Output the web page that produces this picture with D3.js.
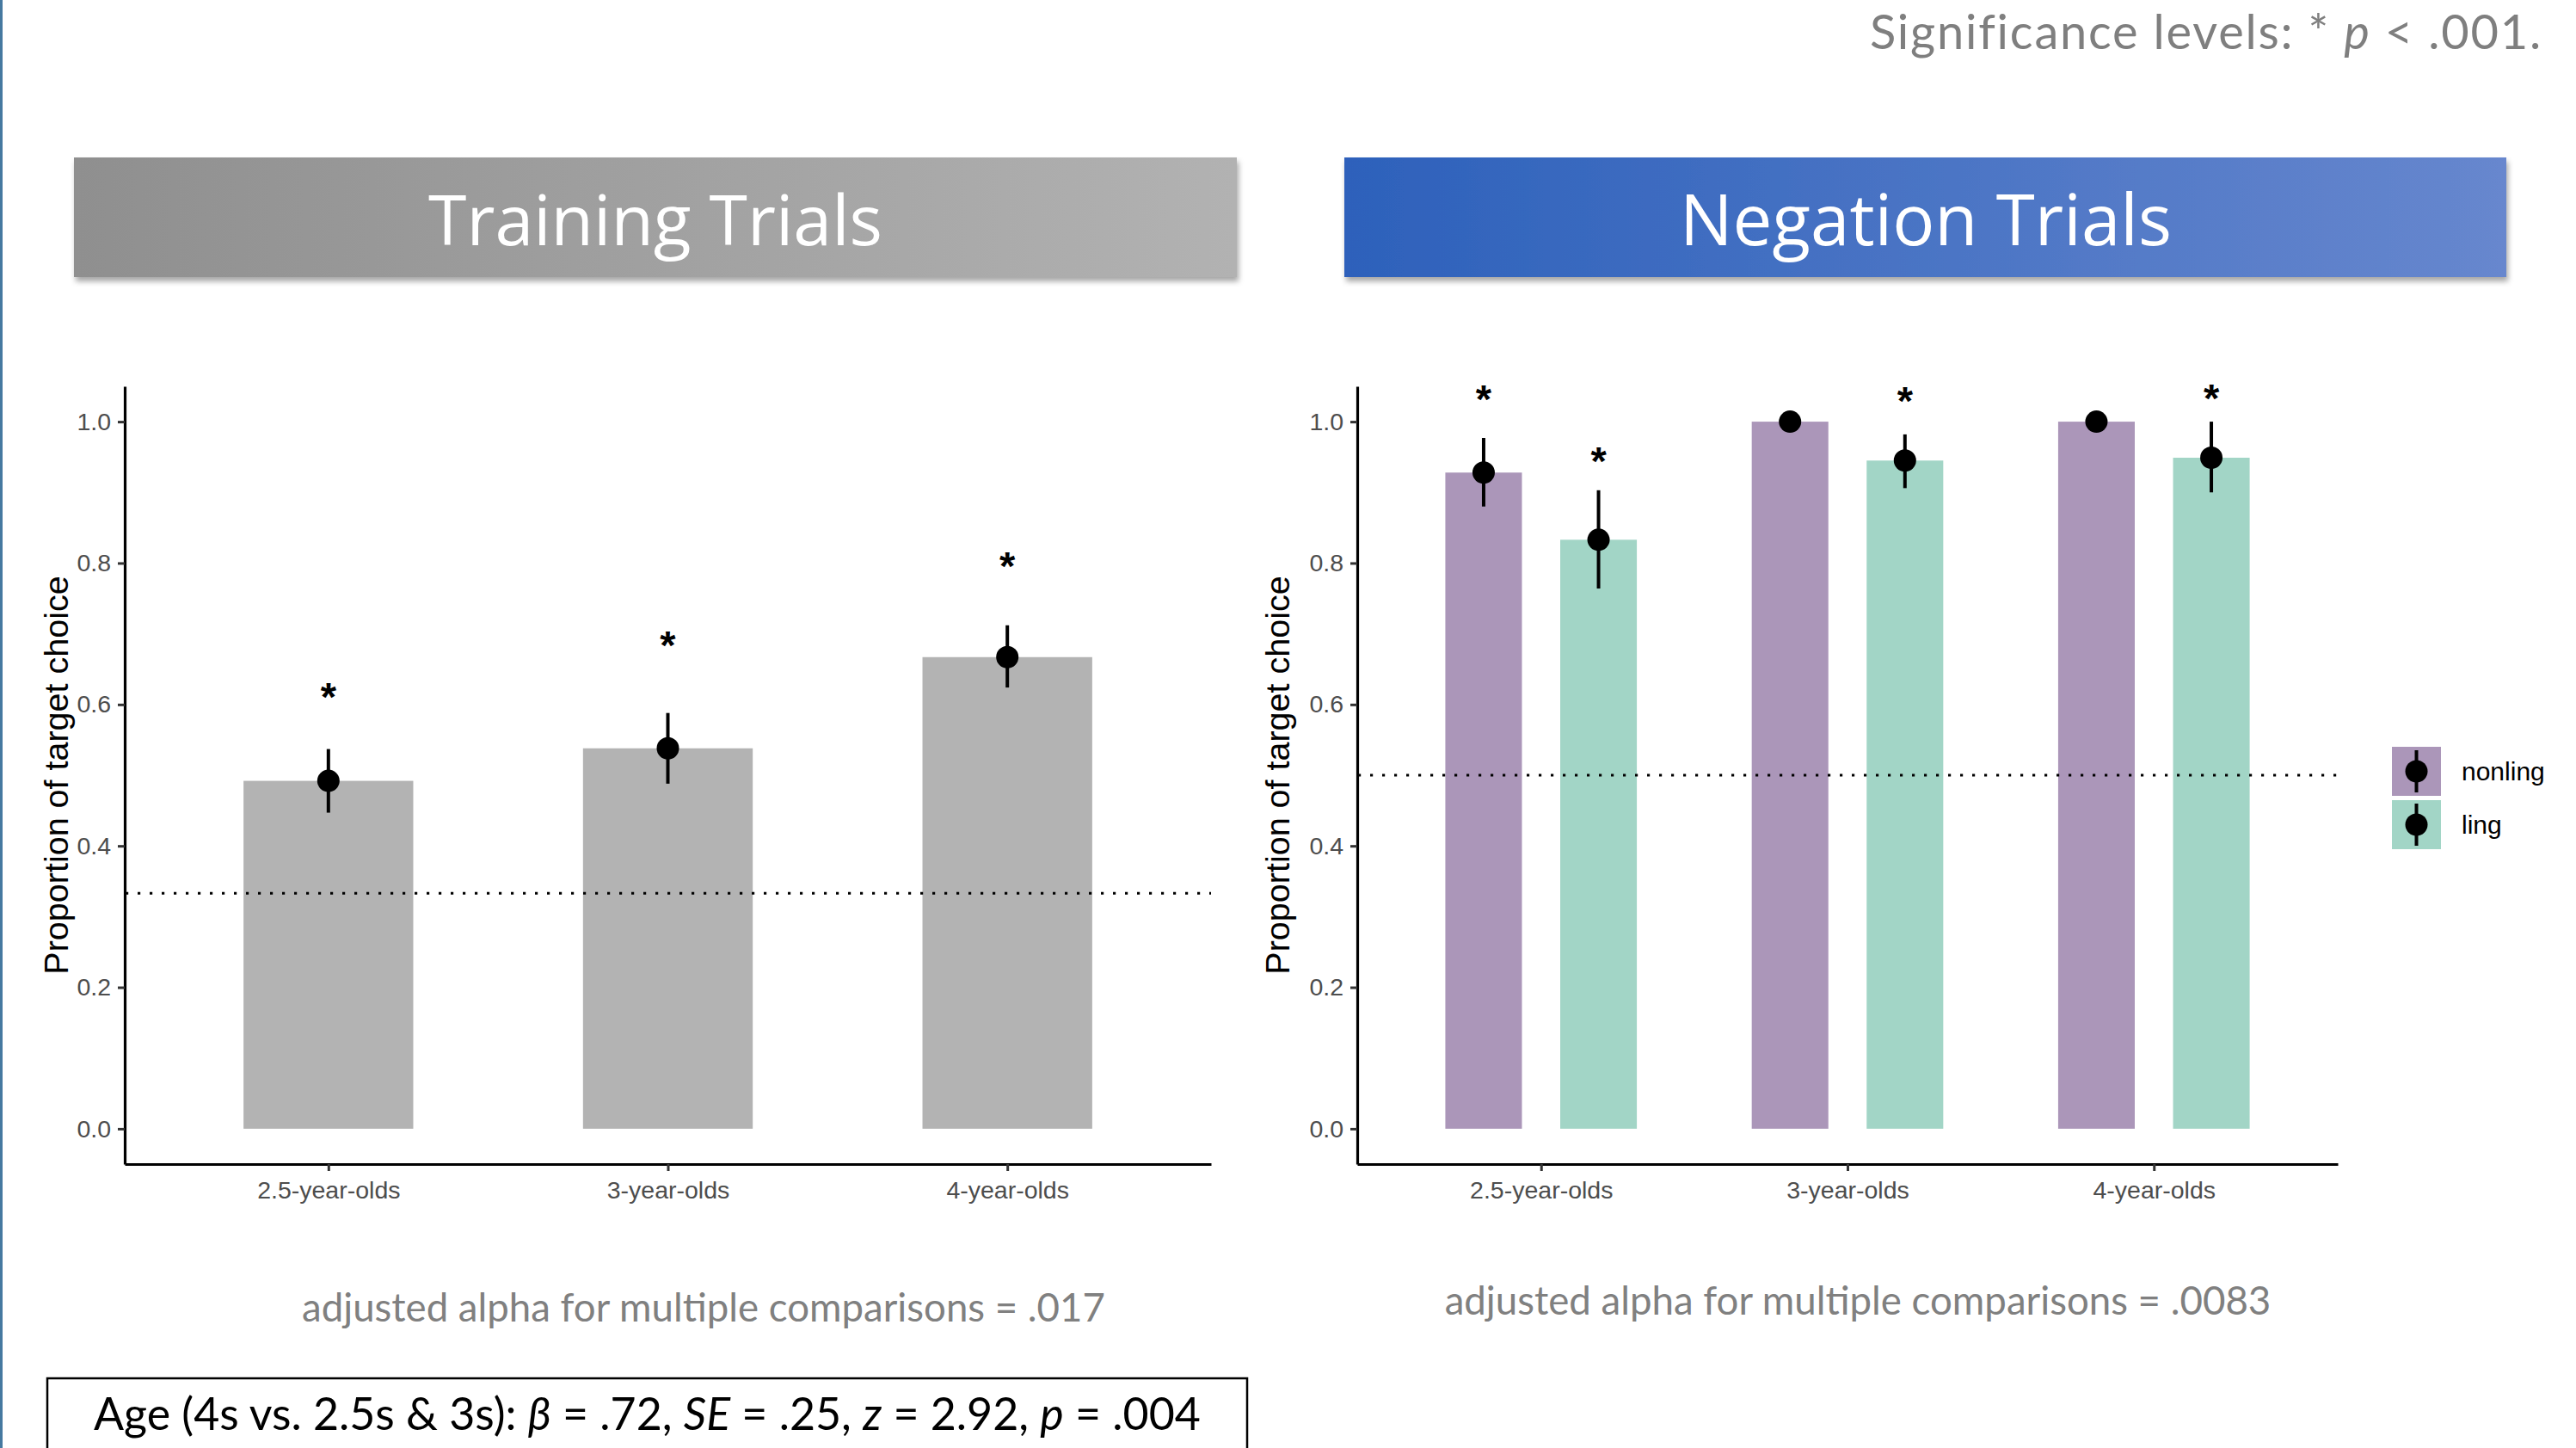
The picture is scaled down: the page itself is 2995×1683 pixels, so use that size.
<!DOCTYPE html>
<html><head><meta charset="utf-8">
<script src="https://cdn.jsdelivr.net/npm/d3@7"></script>
<style>body{margin:0;background:#fff}svg{display:block}</style>
</head><body>
<script>
// ---------- data ----------
const ages = ["2.5-year-olds", "3-year-olds", "4-year-olds"];
const yTicks = [0, 0.2, 0.4, 0.6, 0.8, 1.0];
const conditions = ["nonling", "ling"];

const trainMean = [0.492, 0.538, 0.667];
const trainLow  = [0.447, 0.488, 0.624];
const trainHigh = [0.537, 0.588, 0.712];
const trainStar = [0.624, 0.697, 0.809];
const trainChance = 0.333;

const negNonlingMean = [0.928, 1.0, 1.0];
const negNonlingLow  = [0.880, 1.0, 1.0];
const negNonlingHigh = [0.977, 1.0, 1.0];
const negNonlingStar = [1.045, null, null];
const negLingMean = [0.833, 0.945, 0.949];
const negLingLow  = [0.764, 0.906, 0.900];
const negLingHigh = [0.903, 0.982, 1.0];
const negLingStar = [0.957, 1.043, 1.046];
const negChance = 0.5;

const panelTitles = ["Training Trials", "Negation Trials"];
const alphaNotes = ["adjusted alpha for multiple comparisons = .017",
                    "adjusted alpha for multiple comparisons = .0083"];
const yTitle = "Proportion of target choice";

// ---------- setup ----------
const W = 2995, H = 1683;
const svg = d3.select("body").append("svg").attr("width", W).attr("height", H);
svg.append("rect").attr("width", W).attr("height", H).attr("fill", "#fff");
svg.append("rect").attr("x", 0).attr("y", 0).attr("width", 3).attr("height", H).attr("fill", "#4679a0");

const defs = svg.append("defs");
function grad(id, c0, c1) {
  const g = defs.append("linearGradient").attr("id", id).attr("x1", "0%").attr("x2", "100%").attr("y1", "0%").attr("y2", "0%");
  g.append("stop").attr("offset", "0%").attr("stop-color", c0);
  g.append("stop").attr("offset", "100%").attr("stop-color", c1);
}
grad("gGrey", "#8f8f8f", "#b2b2b2");
grad("gBlue", "#2d61bb", "#6787ce");
const f = defs.append("filter").attr("id", "shadow").attr("x", "-5%").attr("y", "-10%").attr("width", "110%").attr("height", "130%");
f.append("feDropShadow").attr("dx", 2).attr("dy", 5).attr("stdDeviation", 3).attr("flood-color", "#000").attr("flood-opacity", 0.35);

const SANS = "'Liberation Sans', Arial, sans-serif";
const SLIDE = "Lato, 'Noto Sans', sans-serif";

function fitText(sel, target) {
  const fs = parseFloat(sel.attr("font-size"));
  const w = sel.node().getComputedTextLength();
  if (w > 0) sel.attr("font-size", (fs * target / w).toFixed(2));
}
function spreadText(sel, target) {
  const w = sel.node().getComputedTextLength();
  const n = sel.text().length;
  if (w > 0 && n > 1) sel.attr("letter-spacing", ((target - w) / n).toFixed(2));
}

// ---------- banners ----------
const banners = [
  {x: 86, w: 1352, fill: "url(#gGrey)", title: panelTitles[0], cx: 762, tw: 528},
  {x: 1563, w: 1351, fill: "url(#gBlue)", title: panelTitles[1], cx: 2239, tw: 572}
];
banners.forEach(b => {
  svg.append("rect").attr("x", b.x).attr("y", 183).attr("width", b.w).attr("height", 139)
    .attr("fill", b.fill).attr("filter", "url(#shadow)");
  const t = svg.append("text").attr("x", b.cx).attr("y", 285).attr("text-anchor", "middle")
    .attr("font-family", "'Open Sans', sans-serif").attr("font-size", 80).attr("fill", "#fff")
    .text(b.title);
  fitText(t, b.tw);
});

// significance
const sig = svg.append("text").attr("x", 2956).attr("y", 57).attr("text-anchor", "end")
  .attr("font-family", SLIDE).attr("font-size", 56).attr("fill", "#7f7f7f");
sig.append("tspan").text("Significance levels: * ");
sig.append("tspan").attr("font-style", "italic").text("p");
sig.append("tspan").text(" < .001.");
spreadText(sig, 781);

// ---------- common axis builder ----------
const yTop = 449, yBot = 1353;
const y = d3.scaleLinear().domain([-0.05, 1.05]).range([yBot, yTop]);

function drawAxes(g, x, x0, x1, titleX) {
  const ya = g.append("g").attr("transform", `translate(${x0},0)`)
    .call(d3.axisLeft(y).tickValues(yTicks).tickFormat(d3.format(".1f")).tickSize(8).tickSizeOuter(0).tickPadding(8));
  const xa = g.append("g").attr("transform", `translate(0,${yBot})`)
    .call(d3.axisBottom(x).tickSize(8).tickSizeOuter(0).tickPadding(12));
  [ya, xa].forEach(a => {
    a.select(".domain").attr("stroke", "#000").attr("stroke-width", 3.2);
    a.selectAll(".tick line").attr("stroke", "#333").attr("stroke-width", 3);
    a.selectAll(".tick text").attr("font-family", SANS).attr("font-size", 28.5).attr("fill", "#4d4d4d");
  });
  g.append("text").attr("transform", `translate(${titleX},${(yTop + yBot) / 2}) rotate(-90)`)
    .attr("text-anchor", "middle").attr("dominant-baseline", "central")
    .attr("font-family", SANS).attr("font-size", 39.5).attr("fill", "#000").text(yTitle);
}

function chanceLine(g, x0, x1, v) {
  g.append("line").attr("x1", x0 + 1).attr("x2", x1).attr("y1", y(v)).attr("y2", y(v))
    .attr("stroke", "#000").attr("stroke-width", 3.2).attr("stroke-dasharray", "3.2,10.8");
}

function errPoint(g, cx, m, lo, hi) {
  g.append("line").attr("x1", cx).attr("x2", cx).attr("y1", y(lo)).attr("y2", y(hi))
    .attr("stroke", "#000").attr("stroke-width", 4);
  g.append("circle").attr("cx", cx).attr("cy", y(m)).attr("r", 13).attr("fill", "#000");
}

function star(g, cx, v) {
  if (v == null) return;
  g.append("text").attr("x", cx).attr("y", y(v) + 27).attr("text-anchor", "middle")
    .attr("font-family", SANS).attr("font-weight", "bold").attr("font-size", 47).attr("fill", "#000").text("*");
}

// ---------- left panel ----------
{
  const x0 = 145, x1 = 1408;
  const x = d3.scalePoint().domain(ages).range([x0, x1]).padding(0.6);
  const g = svg.append("g");
  const bw = 0.5 * x.step();
  g.selectAll("rect.bar").data(ages).join("rect").attr("class", "bar")
    .attr("x", d => x(d) - bw / 2).attr("width", bw)
    .attr("y", (d, i) => y(trainMean[i])).attr("height", (d, i) => y(0) - y(trainMean[i]))
    .attr("fill", "#b3b3b3");
  chanceLine(g, x0, x1, trainChance);
  ages.forEach((a, i) => {
    errPoint(g, x(a), trainMean[i], trainLow[i], trainHigh[i]);
    star(g, x(a), trainStar[i]);
  });
  drawAxes(g, x, x0, x1, 65);
  const t = svg.append("text").attr("x", 818).attr("y", 1536).attr("text-anchor", "middle")
    .attr("font-family", SLIDE).attr("font-size", 40).attr("fill", "#808080").text(alphaNotes[0]);
  fitText(t, 934);
}

// ---------- right panel ----------
const condColor = {nonling: "#ab96b9", ling: "#a2d5c6"};
{
  const x0 = 1578, x1 = 2718;
  const x = d3.scalePoint().domain(ages).range([x0, x1]).padding(0.6);
  const inner = d3.scaleBand().domain(conditions).range([-0.375 * x.step(), 0.375 * x.step()]).padding(0);
  const bw = 0.25 * x.step();
  const g = svg.append("g");
  const series = {
    nonling: {m: negNonlingMean, lo: negNonlingLow, hi: negNonlingHigh, s: negNonlingStar},
    ling: {m: negLingMean, lo: negLingLow, hi: negLingHigh, s: negLingStar}
  };
  conditions.forEach(c => {
    const S = series[c];
    g.selectAll(`rect.b-${c}`).data(ages).join("rect").attr("class", `b-${c}`)
      .attr("x", d => x(d) + inner(c) + inner.bandwidth() / 2 - bw / 2).attr("width", bw)
      .attr("y", (d, i) => y(S.m[i])).attr("height", (d, i) => y(0) - y(S.m[i]))
      .attr("fill", condColor[c]);
  });
  chanceLine(g, x0, x1, negChance);
  conditions.forEach(c => {
    const S = series[c];
    ages.forEach((a, i) => {
      const cx = x(a) + inner(c) + inner.bandwidth() / 2;
      errPoint(g, cx, S.m[i], S.lo[i], S.hi[i]);
      star(g, cx, S.s[i]);
    });
  });
  drawAxes(g, x, x0, x1, 1485);

  // legend
  const lg = svg.append("g").attr("transform", "translate(2781,868)");
  conditions.forEach((c, i) => {
    const k = lg.append("g").attr("transform", `translate(0,${i * 62})`);
    k.append("rect").attr("width", 57).attr("height", 57).attr("fill", condColor[c]);
    k.append("line").attr("x1", 28.5).attr("x2", 28.5).attr("y1", 4).attr("y2", 53).attr("stroke", "#000").attr("stroke-width", 4);
    k.append("circle").attr("cx", 28.5).attr("cy", 28.5).attr("r", 13).attr("fill", "#000");
    k.append("text").attr("x", 81).attr("y", 28.5).attr("dominant-baseline", "central")
      .attr("font-family", SANS).attr("font-size", 30).attr("fill", "#000").text(c);
  });

  const t = svg.append("text").attr("x", 2160).attr("y", 1528).attr("text-anchor", "middle")
    .attr("font-family", SLIDE).attr("font-size", 40).attr("fill", "#808080").text(alphaNotes[1]);
  fitText(t, 961);
}

// ---------- bottom stats box ----------
svg.append("rect").attr("x", 55).attr("y", 1602).attr("width", 1395).attr("height", 140)
  .attr("fill", "none").attr("stroke", "#000").attr("stroke-width", 2.5);
const st = svg.append("text").attr("x", 109).attr("y", 1662)
  .attr("font-family", SLIDE).attr("font-size", 45).attr("fill", "#000");
[["Age (4s vs. 2.5s & 3s): ", false], ["β", true], [" = .72, ", false], ["SE", true],
 [" = .25, ", false], ["z", true], [" = 2.92, ", false], ["p", true], [" = .004", false]]
  .forEach(([s, it]) => st.append("tspan").attr("font-style", it ? "italic" : "normal").text(s));
fitText(st, 1287);
</script>
</body></html>
